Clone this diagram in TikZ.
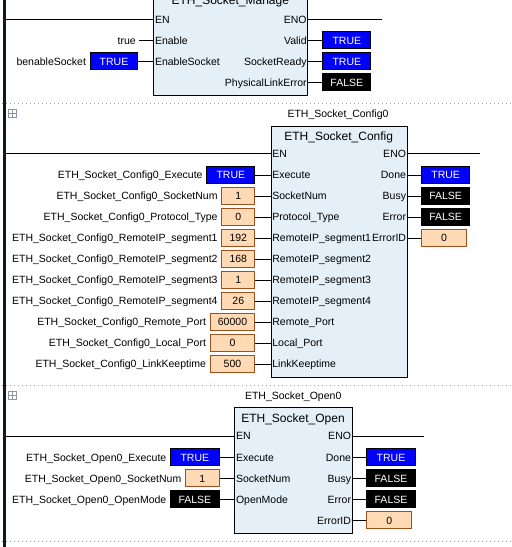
\documentclass[tikz,border=0pt]{standalone}
\usepackage{fontspec}
\setmainfont{Liberation Sans}
\definecolor{fbfill}{HTML}{E4EFF7}
\definecolor{peach}{HTML}{FFDAB4}
\definecolor{brownb}{HTML}{A0501E}
\definecolor{railc}{HTML}{101820}
\definecolor{dotg}{HTML}{A0A0A0}
\definecolor{icong}{HTML}{8C96A0}
\tikzset{
  txt/.style={font=\fontsize{10.5}{12}\selectfont, inner sep=0pt, text height=7.6pt, text depth=0pt},
  ttl/.style={font=\fontsize{12}{14}\selectfont, inner sep=0pt, text height=8.7pt, text depth=0pt},
  fb/.style={draw=black, fill=fbfill, line width=1pt, anchor=north west, inner sep=0pt},
  valbox/.style={txt, minimum height=17pt, line width=1pt},
  tbox/.style={valbox, fill=blue, draw=black, text=white},
  fbox/.style={valbox, fill=black, draw=black, text=white},
  nbox/.style={valbox, fill=peach, draw=brownb},
  wire/.style={line width=1pt, draw=black},
  sep/.style={draw=dotg, line width=1pt, dash pattern=on 1pt off 3pt},
  icon/.style={draw=icong, line width=0.9pt},
}
\begin{document}
\begin{tikzpicture}[x=1pt,y=-1pt]
\useasboundingbox (0,0) rectangle (512,547);
\clip (0,0) rectangle (512,547);
\fill[white] (0,0) rectangle (512,547);

% separators and icons
\draw[sep] (2,103.3) -- (512,103.3);
\draw[sep] (2,385.5) -- (512,385.5);
\draw[sep] (2,541.3) -- (512,541.3);
\draw[icon] (8.5,109.5) rectangle (16.7,117.7) (12.6,109.5) -- (12.6,117.7) (8.5,113.6) -- (16.7,113.6);
\draw[icon] (8.5,391.7) rectangle (16.7,399.9) (12.6,391.7) -- (12.6,399.9) (8.5,395.8) -- (16.7,395.8);

% rail
\draw[draw=railc, line width=3pt] (4.5,0) -- (4.5,547);
\coordinate (r1) at (6,19.3);
\coordinate (r2) at (6,153.3);
\coordinate (r3) at (6,436);
\coordinate (e1) at (381.7,19.3);
\coordinate (e2) at (480,153.3);
\coordinate (e3) at (424,436);

% ---------- Block 1: ETH_Socket_Manage ----------
\node[fb, minimum width=154pt, minimum height=104.8pt] (b1) at (153.3,-9.5) {};
\node[ttl] (b1t) at (230.3,0.5) {ETH\_Socket\_Manage};
\draw[wire] (r1) -- (r1 -| b1.west);
\draw[wire] (b1.east |- e1) -- (e1);
\node[txt, anchor=west] (b1en) at ([xshift=1.5pt]b1.west |- r1) {EN};
\node[txt, anchor=east] (b1eno) at ([xshift=-1.5pt]b1.east |- r1) {ENO};
\node[txt, anchor=east] (b1true) at (136,40.3) {true};
\draw[wire] ([xshift=3.3pt]b1true.east) -- (b1true.east -| b1.west);
\node[txt, anchor=west] (b1p1) at ([xshift=1.5pt]b1.west |- b1true.east) {Enable};
\node[tbox, minimum width=47.6pt, anchor=east] (b1in2) at (138.3,61.3) {TRUE};
\node[txt, anchor=east] (b1l2) at ([xshift=-3.5pt]b1in2.west) {benableSocket};
\draw[wire] (b1in2.east) -- (b1in2.east -| b1.west);
\node[txt, anchor=west] (b1p2) at ([xshift=1.5pt]b1.west |- b1in2.east) {EnableSocket};
\foreach \i/\y/\lab/\sty/\v in {1/40.3/Valid/tbox/TRUE, 2/61.3/SocketReady/tbox/TRUE, 3/82.3/PhysicalLinkError/fbox/FALSE} {
  \node[\sty, minimum width=48pt, anchor=west] (b1o\i) at (322.3,\y) {\v};
  \draw[wire] (b1o\i.west -| b1.east) -- (b1o\i.west);
  \node[txt, anchor=east] (b1q\i) at ([xshift=-1.5pt]b1.east |- b1o\i.west) {\lab};
}

% ---------- Block 2: ETH_Socket_Config ----------
\node[txt] (b2i) at (338,114) {ETH\_Socket\_Config0};
\node[fb, minimum width=136pt, minimum height=251pt] (b2) at (270.7,125.7) {};
\node[ttl] (b2t) at (338.7,135.7) {ETH\_Socket\_Config};
\draw[wire] (r2) -- (r2 -| b2.west);
\draw[wire] (b2.east |- e2) -- (e2);
\node[txt, anchor=west] (b2en) at ([xshift=1.5pt]b2.west |- r2) {EN};
\node[txt, anchor=east] (b2eno) at ([xshift=-1.5pt]b2.east |- r2) {ENO};
\foreach \i/\y/\lab/\sty/\w/\v in {
  1/175/Execute/tbox/48/TRUE,
  2/196/SocketNum/nbox/33/1,
  3/217/Protocol\_Type/nbox/33/0,
  4/238/RemoteIP\_segment1/nbox/33/192,
  5/259/RemoteIP\_segment2/nbox/33/168,
  6/280/RemoteIP\_segment3/nbox/33/1,
  7/301/RemoteIP\_segment4/nbox/33/26,
  8/322/Remote\_Port/nbox/44.6/60000,
  9/343/Local\_Port/nbox/44.6/0,
  10/364/LinkKeeptime/nbox/44.6/500} {
  \node[\sty, minimum width=\w pt, anchor=east] (b2in\i) at (255.3,\y) {\v};
  \node[txt, anchor=east] (b2l\i) at ([xshift=-3.5pt]b2in\i.west) {ETH\_Socket\_Config0\_\lab};
  \draw[wire] (b2in\i.east) -- (b2in\i.east -| b2.west);
  \node[txt, anchor=west] (b2p\i) at ([xshift=1.5pt]b2.west |- b2in\i.east) {\lab};
}
\foreach \i/\y/\lab/\sty/\w/\v in {
  1/175/Done/tbox/48.3/TRUE,
  2/196/Busy/fbox/48.3/FALSE,
  3/217/Error/fbox/48.3/FALSE,
  4/238/ErrorID/nbox/45/0} {
  \node[\sty, minimum width=\w pt, anchor=west] (b2o\i) at (421,\y) {\v};
  \draw[wire] (b2o\i.west -| b2.east) -- (b2o\i.west);
  \node[txt, anchor=east] (b2q\i) at ([xshift=-1.5pt]b2.east |- b2o\i.west) {\lab};
}

% ---------- Block 3: ETH_Socket_Open ----------
\node[txt] (b3i) at (293.2,396) {ETH\_Socket\_Open0};
\node[fb, minimum width=117.4pt, minimum height=126pt] (b3) at (234.3,407.3) {};
\node[ttl] (b3t) at (293,417.7) {ETH\_Socket\_Open};
\draw[wire] (r3) -- (r3 -| b3.west);
\draw[wire] (b3.east |- e3) -- (e3);
\node[txt, anchor=west] (b3en) at ([xshift=1.5pt]b3.west |- r3) {EN};
\node[txt, anchor=east] (b3eno) at ([xshift=-1.5pt]b3.east |- r3) {ENO};
\foreach \i/\y/\lab/\sty/\w/\v in {
  1/457.3/Execute/tbox/48.7/TRUE,
  2/478.3/SocketNum/nbox/33.7/1,
  3/499.3/OpenMode/fbox/48.7/FALSE} {
  \node[\sty, minimum width=\w pt, anchor=east] (b3in\i) at (219.7,\y) {\v};
  \node[txt, anchor=east] (b3l\i) at ([xshift=-3.5pt]b3in\i.west) {ETH\_Socket\_Open0\_\lab};
  \draw[wire] (b3in\i.east) -- (b3in\i.east -| b3.west);
  \node[txt, anchor=west] (b3p\i) at ([xshift=1.5pt]b3.west |- b3in\i.east) {\lab};
}
\foreach \i/\y/\lab/\sty/\w/\v in {
  1/457.3/Done/tbox/48.4/TRUE,
  2/478.3/Busy/fbox/48.4/FALSE,
  3/499.3/Error/fbox/48.4/FALSE,
  4/520.3/ErrorID/nbox/45/0} {
  \node[\sty, minimum width=\w pt, anchor=west] (b3o\i) at (366.3,\y) {\v};
  \draw[wire] (b3o\i.west -| b3.east) -- (b3o\i.west);
  \node[txt, anchor=east] (b3q\i) at ([xshift=-1.5pt]b3.east |- b3o\i.west) {\lab};
}
\end{tikzpicture}
\end{document}
